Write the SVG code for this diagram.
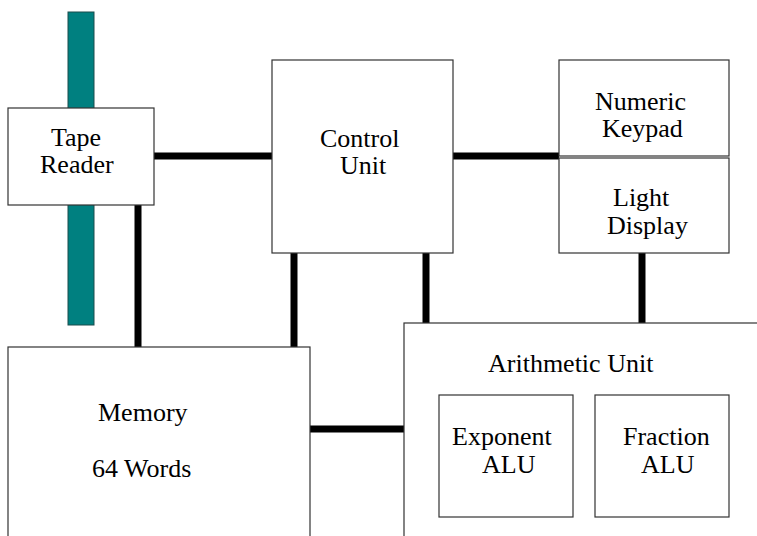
<svg xmlns="http://www.w3.org/2000/svg" width="757" height="536" viewBox="0 0 757 536">
<style>
.box{fill:#fff;stroke:#333;stroke-width:1.2}
.c{stroke:#000;stroke-width:7;fill:none}
</style>
<rect width="757" height="536" fill="#fff"/>
<g id="tape">
<rect x="68" y="12" width="26" height="313" fill="#008080" stroke="#1a4d4d" stroke-width="1"/>
</g>
<g id="connectors">
<line class="c" x1="154" y1="156" x2="272" y2="156"/>
<line class="c" x1="453" y1="156" x2="559" y2="156"/>
<line class="c" x1="138" y1="205" x2="138" y2="347"/>
<line class="c" x1="294" y1="253" x2="294" y2="347"/>
<line class="c" x1="426" y1="253" x2="426" y2="323"/>
<line class="c" x1="642" y1="253" x2="642" y2="323"/>
<line class="c" x1="310" y1="429" x2="404" y2="429"/>
</g>
<g id="tape-reader">
<rect class="box" x="8" y="108" width="146" height="97"/>
<text x="51" y="146" font-family="Liberation Serif" font-size="26">Tape</text>
<text x="40" y="173" font-family="Liberation Serif" font-size="26">Reader</text>
</g>
<g id="control-unit">
<rect class="box" x="272" y="60" width="181" height="193"/>
<text x="320" y="147" font-family="Liberation Serif" font-size="26">Control</text>
<text x="340" y="174" font-family="Liberation Serif" font-size="26">Unit</text>
</g>
<g id="numeric-keypad">
<rect class="box" x="559" y="60" width="170" height="96"/>
<text x="595" y="110" font-family="Liberation Serif" font-size="26">Numeric</text>
<text x="602" y="137" font-family="Liberation Serif" font-size="26">Keypad</text>
</g>
<g id="light-display">
<rect class="box" x="559" y="158" width="170" height="95"/>
<text x="613" y="206" font-family="Liberation Serif" font-size="26">Light</text>
<text x="607" y="234" font-family="Liberation Serif" font-size="26">Display</text>
</g>
<g id="memory">
<rect class="box" x="8" y="347" width="302" height="200"/>
<text x="98" y="421" font-family="Liberation Serif" font-size="26">Memory</text>
<text x="92" y="477" font-family="Liberation Serif" font-size="26">64 Words</text>
</g>
<g id="arithmetic-unit">
<rect class="box" x="404" y="323" width="360" height="220"/>
<text x="488" y="372" font-family="Liberation Serif" font-size="26">Arithmetic Unit</text>
</g>
<g id="exponent-alu">
<rect class="box" x="439" y="395" width="134" height="122"/>
<text x="452" y="445" font-family="Liberation Serif" font-size="26">Exponent</text>
<text x="482" y="473" font-family="Liberation Serif" font-size="26">ALU</text>
</g>
<g id="fraction-alu">
<rect class="box" x="595" y="395" width="134" height="122"/>
<text x="623" y="445" font-family="Liberation Serif" font-size="26">Fraction</text>
<text x="641" y="473" font-family="Liberation Serif" font-size="26">ALU</text>
</g>
</svg>
